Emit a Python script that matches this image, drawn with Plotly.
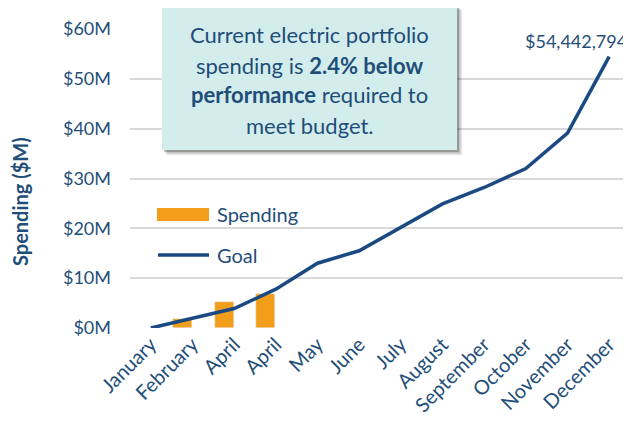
import plotly.graph_objects as go

months = ["January", "February", "April", "April", "May", "June", "July",
          "August", "September", "October", "November", "December"]
goal_m = [0.0, 1.9, 3.9, 7.8, 13.0, 15.5, 20.1, 24.9, 28.2, 32.0, 39.1, 54.442794]
spending_m = [None, 1.8, 5.15, 6.85, None, None, None, None, None, None, None, None]
y_ticks = [0, 10, 20, 30, 40, 50, 60]
y_tick_labels = ["$0M", "$10M", "$20M", "$30M", "$40M", "$50M", "$60M"]

NAVY = "#1B4A82"
TEXT = "#1F4E79"
ORANGE = "#F29E1A"
FONT = "Lato"

idx = list(range(len(months)))

fig = go.Figure()
fig.add_trace(go.Bar(x=idx, y=spending_m, name="Spending", marker_color=ORANGE,
                     width=0.46, offset=-0.47, showlegend=False))
fig.add_trace(go.Scatter(x=idx, y=goal_m, name="Goal", mode="lines",
                         line=dict(color=NAVY, width=3.5), showlegend=False))

last = len(months) - 1
fig.add_annotation(x=last, y=goal_m[last], xref="x", yref="y",
                   text="${:,.0f}".format(goal_m[last] * 1e6), showarrow=False,
                   xanchor="center", yanchor="middle",
                   xshift=-33, yshift=16, font=dict(family=FONT, size=18, color=TEXT))

# callout box with shadow
for i, a in enumerate([0.10, 0.14, 0.22]):
    d = 5 - i * 1.5
    fig.add_shape(type="rect", xref="paper", yref="paper",
                  x0=0.064 + d / 500, x1=0.654 + d / 500,
                  y0=0.595 - d / 299, y1=1.080 - d / 299,
                  fillcolor=f"rgba(0,0,0,{a})", line_width=0, layer="above")
fig.add_shape(type="rect", xref="paper", yref="paper", x0=0.064, x1=0.654,
              y0=0.595, y1=1.080, fillcolor="#D3ECEC", line_width=0, layer="above")
lines = ["Current electric portfolio", "spending is <b>2.4% below</b>",
         "<b>performance</b> required to", "meet budget."]
for k, t in enumerate(lines):
    py = 35 + 30 * k
    fig.add_annotation(x=0.359, y=(328 - py) / 299, xref="paper", yref="paper",
                       text=t, showarrow=False, xanchor="center", yanchor="middle",
                       font=dict(family=FONT, size=22, color=TEXT))

# legend
fig.add_shape(type="rect", xref="paper", yref="paper", x0=0.054, x1=0.158,
              y0=0.358, y1=0.401, fillcolor=ORANGE, line_width=0)
fig.add_shape(type="line", xref="paper", yref="paper", x0=0.056, x1=0.158,
              y0=0.244, y1=0.244, line=dict(color=NAVY, width=3.5))
fig.add_annotation(x=0.17, y=0.381, xref="paper", yref="paper", text="Spending",
                   showarrow=False, xanchor="left", yanchor="middle",
                   font=dict(family=FONT, size=20, color=TEXT))
fig.add_annotation(x=0.17, y=0.244, xref="paper", yref="paper", text="Goal",
                   showarrow=False, xanchor="left", yanchor="middle",
                   font=dict(family=FONT, size=20, color=TEXT))

# y axis title
fig.add_annotation(x=(20 - 130) / 500, y=(328 - 202) / 299, xref="paper", yref="paper",
                   text="<b>Spending ($M)</b>", textangle=-90, showarrow=False,
                   xanchor="center", yanchor="middle",
                   font=dict(family=FONT, size=20, color=TEXT))

# page body has an 8px default margin, so the figure is sized/offset to compensate
fig.update_layout(
    width=623, height=416,
    margin=dict(l=122, r=1, t=21, b=96),
    paper_bgcolor="white", plot_bgcolor="white",
    font=dict(family=FONT, color=TEXT),
    bargap=0,
)
fig.update_xaxes(tickmode="array", tickvals=idx, ticktext=months, tickangle=-45,
                 range=[-0.5, 11.5], showgrid=False, zeroline=False, showline=False,
                 tickfont=dict(family=FONT, size=20, color=TEXT), ticks="",
                 automargin=False)
fig.update_yaxes(range=[0, 60], tickvals=y_ticks, ticktext=y_tick_labels,
                 showgrid=True, gridcolor="#D9D9D9", gridwidth=1.5, zeroline=False,
                 tickfont=dict(family=FONT, size=18, color=TEXT), ticks="",
                 ticklabelstandoff=18, automargin=False)

fig.write_html("out.html")
